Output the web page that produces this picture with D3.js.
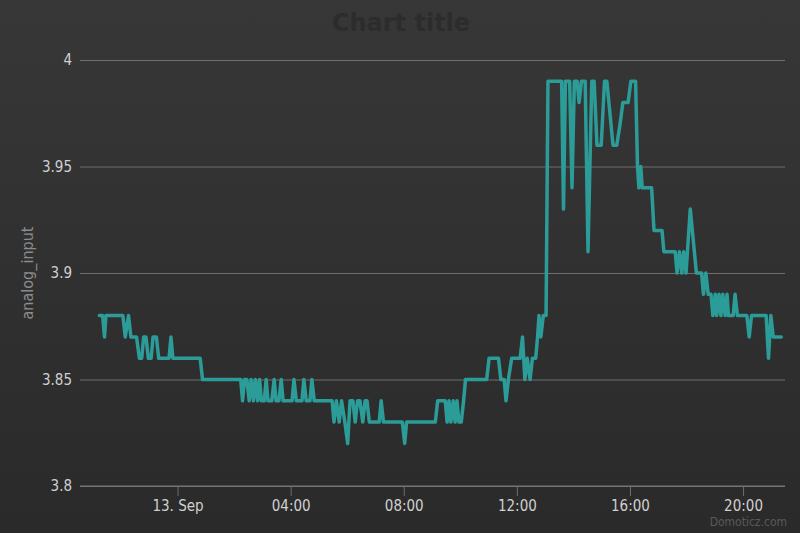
<!DOCTYPE html>
<html>
<head>
<meta charset="utf-8">
<script src="https://cdn.jsdelivr.net/npm/d3@7"></script>
<style>
  html, body { margin: 0; padding: 0; background: #303030; }
  svg { display: block; }
</style>
</head>
<body>
<div id="chart"></div>
<script>
// ---- data ----
const times = [
  "2016-09-12 21:14","2016-09-12 21:21","2016-09-12 21:25","2016-09-12 21:28","2016-09-12 22:04","2016-09-12 22:09",
  "2016-09-12 22:16","2016-09-12 22:21","2016-09-12 22:33","2016-09-12 22:39","2016-09-12 22:44","2016-09-12 22:48",
  "2016-09-12 22:53","2016-09-12 22:58","2016-09-12 23:04","2016-09-12 23:08","2016-09-12 23:15","2016-09-12 23:20",
  "2016-09-12 23:42","2016-09-12 23:46","2016-09-12 23:50","2016-09-13 00:48","2016-09-13 00:53","2016-09-13 02:14",
  "2016-09-13 02:18","2016-09-13 02:22","2016-09-13 02:27","2016-09-13 02:32","2016-09-13 02:36","2016-09-13 02:41",
  "2016-09-13 02:45","2016-09-13 02:50","2016-09-13 02:54","2016-09-13 02:58","2016-09-13 03:04","2016-09-13 03:08",
  "2016-09-13 03:12","2016-09-13 03:20","2016-09-13 03:25","2016-09-13 03:29","2016-09-13 03:35","2016-09-13 03:40",
  "2016-09-13 03:44","2016-09-13 04:03","2016-09-13 04:07","2016-09-13 04:12","2016-09-13 04:24","2016-09-13 04:28",
  "2016-09-13 04:33","2016-09-13 04:41","2016-09-13 04:45","2016-09-13 04:50","2016-09-13 05:28","2016-09-13 05:32",
  "2016-09-13 05:37","2016-09-13 05:43","2016-09-13 05:48","2016-09-13 05:55","2016-09-13 06:01","2016-09-13 06:06",
  "2016-09-13 06:12","2016-09-13 06:17","2016-09-13 06:22","2016-09-13 06:27","2016-09-13 06:33","2016-09-13 06:38",
  "2016-09-13 06:42","2016-09-13 06:47","2016-09-13 07:08","2016-09-13 07:12","2016-09-13 07:17","2016-09-13 07:57",
  "2016-09-13 08:02","2016-09-13 08:06","2016-09-13 09:07","2016-09-13 09:12","2016-09-13 09:28","2016-09-13 09:32",
  "2016-09-13 09:36","2016-09-13 09:40","2016-09-13 09:45","2016-09-13 09:49","2016-09-13 09:53","2016-09-13 09:57",
  "2016-09-13 10:02","2016-09-13 10:07","2016-09-13 10:11","2016-09-13 10:56","2016-09-13 11:01","2016-09-13 11:21",
  "2016-09-13 11:26","2016-09-13 11:33","2016-09-13 11:37","2016-09-13 11:42","2016-09-13 11:49","2016-09-13 12:07",
  "2016-09-13 12:12","2016-09-13 12:17","2016-09-13 12:22","2016-09-13 12:28","2016-09-13 12:33","2016-09-13 12:40",
  "2016-09-13 12:44","2016-09-13 12:47","2016-09-13 12:51","2016-09-13 12:56","2016-09-13 13:02","2016-09-13 13:06",
  "2016-09-13 13:35","2016-09-13 13:39","2016-09-13 13:43","2016-09-13 13:52","2016-09-13 13:57","2016-09-13 14:02",
  "2016-09-13 14:08","2016-09-13 14:12","2016-09-13 14:17","2016-09-13 14:25","2016-09-13 14:31","2016-09-13 14:39",
  "2016-09-13 14:44","2016-09-13 14:50","2016-09-13 14:59","2016-09-13 15:06","2016-09-13 15:11","2016-09-13 15:24",
  "2016-09-13 15:32","2016-09-13 15:39","2016-09-13 15:45","2016-09-13 15:56","2016-09-13 16:02","2016-09-13 16:12",
  "2016-09-13 16:16","2016-09-13 16:19","2016-09-13 16:23","2016-09-13 16:26","2016-09-13 16:46","2016-09-13 16:51",
  "2016-09-13 17:08","2016-09-13 17:12","2016-09-13 17:36","2016-09-13 17:40","2016-09-13 17:45","2016-09-13 17:50",
  "2016-09-13 17:54","2016-09-13 17:59","2016-09-13 18:08","2016-09-13 18:21","2016-09-13 18:32","2016-09-13 18:36",
  "2016-09-13 18:41","2016-09-13 18:46","2016-09-13 18:52","2016-09-13 18:56","2016-09-13 19:01","2016-09-13 19:04",
  "2016-09-13 19:09","2016-09-13 19:13","2016-09-13 19:17","2016-09-13 19:22","2016-09-13 19:26","2016-09-13 19:29",
  "2016-09-13 19:39","2016-09-13 19:43","2016-09-13 19:48","2016-09-13 20:08","2016-09-13 20:13","2016-09-13 20:18",
  "2016-09-13 20:49","2016-09-13 20:54","2016-09-13 20:59","2016-09-13 21:04","2016-09-13 21:21"
];
const values = [
  3.88,3.88,3.87,3.88,3.88,3.87,
  3.88,3.87,3.87,3.86,3.86,3.87,
  3.87,3.86,3.86,3.87,3.87,3.86,
  3.86,3.87,3.86,3.86,3.85,3.85,
  3.84,3.85,3.85,3.84,3.85,3.84,
  3.85,3.84,3.85,3.84,3.84,3.85,
  3.84,3.84,3.85,3.84,3.84,3.85,
  3.84,3.84,3.85,3.84,3.84,3.85,
  3.84,3.84,3.85,3.84,3.84,3.83,
  3.84,3.83,3.84,3.83,3.82,3.84,
  3.84,3.83,3.84,3.84,3.83,3.84,
  3.84,3.83,3.83,3.84,3.83,3.83,
  3.82,3.83,3.83,3.84,3.84,3.83,
  3.84,3.83,3.84,3.83,3.84,3.83,
  3.83,3.84,3.85,3.85,3.86,3.86,
  3.85,3.85,3.84,3.85,3.86,3.86,
  3.87,3.85,3.86,3.85,3.86,3.86,
  3.87,3.88,3.87,3.88,3.88,3.99,
  3.99,3.93,3.99,3.99,3.94,3.99,
  3.99,3.98,3.99,3.99,3.91,3.99,
  3.99,3.96,3.96,3.99,3.99,3.96,
  3.96,3.97,3.98,3.98,3.99,3.99,
  3.95,3.94,3.95,3.94,3.94,3.92,
  3.92,3.91,3.91,3.90,3.91,3.90,
  3.91,3.90,3.93,3.90,3.90,3.89,
  3.90,3.89,3.89,3.88,3.89,3.88,
  3.89,3.88,3.89,3.88,3.89,3.88,
  3.88,3.89,3.88,3.88,3.87,3.88,
  3.88,3.86,3.88,3.87,3.87
];
const yTicks = [3.8, 3.85, 3.9, 3.95, 4];
const yTickLabels = ["3.8", "3.85", "3.9", "3.95", "4"];
const xDomain = ["2016-09-12 20:33", "2016-09-13 21:29"];
const chartTitle = "Chart title";
const yAxisTitle = "analog_input";
const creditText = "Domoticz.com";

// ---- layout ----
const W = 800, H = 533;
const plot = { left: 80, right: 785, top: 60, bottom: 486 };
const parse = d3.timeParse("%Y-%m-%d %H:%M");
const data = times.map((t, i) => ({ t: parse(t), v: values[i] }));

const svg = d3.select("#chart").append("svg").attr("width", W).attr("height", H);
const defs = svg.append("defs");
const grad = defs.append("linearGradient").attr("id", "bg").attr("x1", 0).attr("y1", 0).attr("x2", 0).attr("y2", 1);
grad.append("stop").attr("offset", "0%").attr("stop-color", "#373737");
grad.append("stop").attr("offset", "100%").attr("stop-color", "#2a2a2a");
svg.append("rect").attr("width", W).attr("height", H).attr("fill", "url(#bg)");

const x = d3.scaleTime().domain(xDomain.map(parse)).range([plot.left, plot.right]);
const y = d3.scaleLinear().domain([3.8, 4.0]).range([plot.bottom, plot.top]);

const labelFont = "'DejaVu Sans Condensed', 'DejaVu Sans', sans-serif";

// grid + y axis
const yAxis = d3.axisLeft(y).tickValues(yTicks)
  .tickFormat((d, i) => yTickLabels[i])
  .tickSize(-(plot.right - plot.left)).tickPadding(8);
const gy = svg.append("g").attr("transform", `translate(${plot.left},0)`).call(yAxis);
gy.select(".domain").remove();
gy.selectAll(".tick line").attr("stroke", "#6e6e6e").attr("stroke-width", 1);
gy.selectAll(".tick text").attr("fill", "#d0d0d0").style("font-family", labelFont).style("font-size", "15px");

// x axis
const xTickVals = x.ticks(d3.timeHour.every(4));
const fmtX = d => (d.getHours() === 0 && d.getMinutes() === 0) ? d3.timeFormat("%-d. %b")(d) : d3.timeFormat("%H:%M")(d);
const xAxis = d3.axisBottom(x).tickValues(xTickVals).tickFormat(fmtX).tickSize(10).tickPadding(4);
const gx = svg.append("g").attr("transform", `translate(0,${plot.bottom})`).call(xAxis);
gx.select(".domain").attr("stroke", "#7a7a7a").attr("d", `M${plot.left},0H${plot.right}`);
gx.selectAll(".tick line").attr("stroke", "#6e6e6e");
gx.selectAll(".tick text").attr("fill", "#d0d0d0").style("font-family", labelFont).style("font-size", "15px");

// line
const line = d3.line().x(d => x(d.t)).y(d => y(d.v));
svg.append("path").datum(data).attr("d", line)
  .attr("fill", "none").attr("stroke", "#2b9c98").attr("stroke-width", 3.5)
  .attr("stroke-linejoin", "round").attr("stroke-linecap", "round");

// title
svg.append("text").attr("x", 401).attr("y", 31).attr("text-anchor", "middle")
  .style("font-family", "'DejaVu Sans', sans-serif").style("font-weight", "bold").style("font-size", "24px")
  .attr("fill", "#2c2c2c").text(chartTitle);

// y axis title
svg.append("text").attr("transform", `translate(33,${(plot.top + plot.bottom) / 2}) rotate(-90)`)
  .attr("text-anchor", "middle")
  .style("font-family", labelFont).style("font-size", "16px")
  .attr("fill", "#8c8c8c").text(yAxisTitle);

// credits
svg.append("text").attr("x", 787).attr("y", 526).attr("text-anchor", "end")
  .style("font-family", labelFont).style("font-size", "12px")
  .attr("fill", "#595959").text(creditText);
</script>
</body>
</html>
